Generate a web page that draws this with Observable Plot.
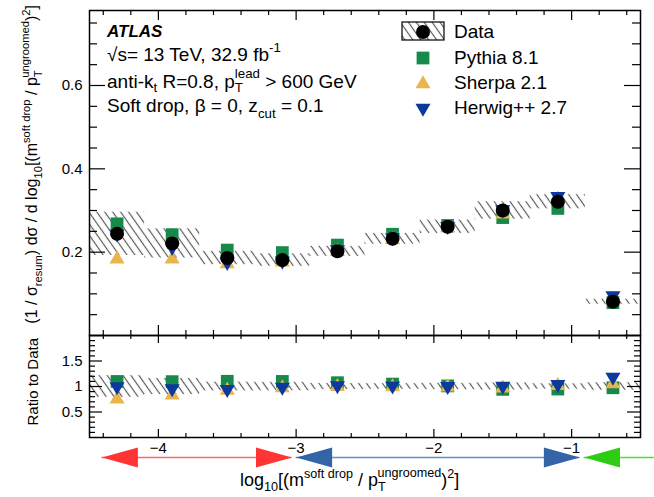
<!DOCTYPE html>
<html>
<head>
<meta charset="utf-8">
<script src="https://cdn.jsdelivr.net/npm/d3@7"></script>
<script src="https://cdn.jsdelivr.net/npm/@observablehq/plot@0.6"></script>
<style>
  body { margin: 0; background: #fff; }
  #chart { position: relative; width: 654px; height: 497px; overflow: hidden; background: #fff; }
  #chart svg { position: absolute; left: 0; overflow: visible; }
</style>
</head>
<body>
<div id="chart"></div>
<script>
// ---- Measured distribution: log10[(m_soft drop / pT_ungroomed)^2] ----
const binCenters   = [-4.3, -3.9, -3.5, -3.1, -2.7, -2.3, -1.9, -1.5, -1.1, -0.7];
const binWidth     = 0.4;
const dataValues   = [0.244, 0.221, 0.186, 0.181, 0.202, 0.232, 0.261, 0.300, 0.321, 0.081];
const dataSyst     = [0.052, 0.035, 0.016, 0.015, 0.012, 0.013, 0.016, 0.021, 0.017, 0.006];
const pythiaValues = [0.268, 0.242, 0.205, 0.199, 0.217, 0.243, 0.264, 0.283, 0.305, 0.079];
const sherpaValues = [0.183, 0.183, 0.172, 0.176, 0.201, 0.230, 0.258, 0.291, 0.327, 0.085];
const herwigValues = [0.244, 0.212, 0.176, 0.179, 0.206, 0.235, 0.262, 0.302, 0.334, 0.096];

// Theory regions shown as arrows under the axis
const regionIds    = ["nonperturbative", "resummed", "fixedOrder"];
const regionStart  = [-4.41, -3.00, -0.91];
const regionEnd    = [-3.03, -0.94, -0.40];
const regionLeft   = [true, true, true];
const regionRight  = [true, true, false];

// Tick labels
const xTickLabels      = [-4, -3, -2, -1];
const mainYTickLabels  = [0.2, 0.4, 0.6];
const ratioYTickLabels = [0.5, 1, 1.5];

// ---- Styling ----
const FONT = "'Liberation Sans', Arial, Helvetica, sans-serif";
const GREEN = "#178a4b", YELLOW = "#ebb54e", BLUE = "#0b3a9e";
const REGION_FILL = {nonperturbative: "#ff3434", resummed: "#3464a8", fixedOrder: "#2ecc12"};
const REGION_LINE = {nonperturbative: "#ff6a6a", resummed: "#6a8cc4", fixedOrder: "#4ee03a"};
const W = 654, ML = 89, MR = 14;
const innerW = W - ML - MR;
const X_DOMAIN = [-4.5, -0.5];
const R_CIRCLE = 7, R_SQUARE = 7.2, R_TRI = 5.6;

const rows = binCenters.map((c, i) => ({
  x: c, x1: c - binWidth / 2, x2: c + binWidth / 2,
  data: dataValues[i], err: dataSyst[i],
  pythia: pythiaValues[i], sherpa: sherpaValues[i], herwig: herwigValues[i]
}));
const regions = regionIds.map((id, i) => ({id, x1: regionStart[i], x2: regionEnd[i], left: regionLeft[i], right: regionRight[i]}));

const round = v => Math.round(v * 1000) / 1000;
const xMajor = [-4, -3, -2, -1];
const xMinor = d3.range(-4.4, -0.5, 0.2).map(round).filter(v => !xMajor.includes(v));
const mainYMajor = [0, 0.2, 0.4, 0.6];
const mainYMinor = d3.range(0.05, 0.78, 0.05).map(round).filter(v => !mainYMajor.includes(v));
const ratioYMajor = [0.5, 1, 1.5];
const ratioYMinor = d3.range(0.1, 2, 0.1).map(round).filter(v => !ratioYMajor.includes(v));

// Inward ROOT-style ticks on all four sides of the frame
function frameTicks(innerH, xMaj, xMin, yMaj, yMin, len) {
  const s = {stroke: "black", strokeWidth: 1.2};
  const tx = (vals, l) => [
    Plot.tickX(vals, {x: d => d, insetTop: innerH - l, ...s}),
    Plot.tickX(vals, {x: d => d, insetBottom: innerH - l, ...s})
  ];
  const ty = (vals, l) => [
    Plot.tickY(vals, {y: d => d, insetRight: innerW - l, ...s}),
    Plot.tickY(vals, {y: d => d, insetLeft: innerW - l, ...s})
  ];
  return [...tx(xMaj, len.xMaj), ...tx(xMin, len.xMin), ...ty(yMaj, len.yMaj), ...ty(yMin, len.yMin)];
}

function modelDots(yOf) {
  return [
    Plot.dot(rows, {x: "x", y: yOf("pythia"), symbol: "square", r: R_SQUARE, fill: GREEN, stroke: "none"}),
    Plot.dot(rows, {x: "x", y: yOf("sherpa"), symbol: "triangle", r: R_TRI, fill: YELLOW, stroke: "none"}),
    Plot.dot(rows, {x: "x", y: yOf("herwig"), symbol: "triangle", rotate: 180, r: R_TRI, fill: BLUE, stroke: "none"})
  ];
}

// Arrowheads: tip at the anchor point
const headRight = {draw(ctx, size) { const r = Math.sqrt(size / Math.PI); ctx.moveTo(0, 0); ctx.lineTo(-3.6 * r, -r); ctx.lineTo(-3.6 * r, r); ctx.closePath(); }};
const headLeft  = {draw(ctx, size) { const r = Math.sqrt(size / Math.PI); ctx.moveTo(0, 0); ctx.lineTo(3.6 * r, -r); ctx.lineTo(3.6 * r, r); ctx.closePath(); }};

// ---- Upper panel: distribution ----
const mainH = 336, mainTop = 10, mainBottom = 1;
const mainPlot = Plot.plot({
  width: W, height: mainH, marginLeft: ML, marginRight: MR, marginTop: mainTop, marginBottom: mainBottom,
  style: {fontFamily: FONT, fontSize: "15px", color: "black", background: "transparent", overflow: "visible"},
  x: {domain: X_DOMAIN, axis: null},
  y: {domain: [0, 0.78], axis: null},
  marks: [
    Plot.rect(rows, {x1: "x1", x2: "x2", y1: d => d.data - d.err, y2: d => d.data + d.err, fill: "url(#hatchMain)"}),
    ...modelDots(k => k),
    Plot.dot(rows, {x: "x", y: "data", r: R_CIRCLE, fill: "black", stroke: "none"}),
    ...frameTicks(mainH - mainTop - mainBottom, xMajor, xMinor, mainYMajor, mainYMinor, {xMaj: 10, xMin: 5, yMaj: 16, yMin: 8}),
    Plot.frame({stroke: "black", strokeWidth: 1.5}),
    Plot.axisY({ticks: mainYTickLabels, tickSize: 0, tickPadding: 7, fontSize: 15, tickFormat: d => String(d), label: null})
  ]
});

// ---- Lower panel: ratio to data ----
const ratioH = 167, ratioTop = 5, ratioBottom = 60;
const ratioPlot = Plot.plot({
  width: W, height: ratioH, marginLeft: ML, marginRight: MR, marginTop: ratioTop, marginBottom: ratioBottom,
  style: {fontFamily: FONT, fontSize: "15px", color: "black", background: "transparent", overflow: "visible"},
  x: {domain: X_DOMAIN, axis: null},
  y: {domain: [0, 2], axis: null},
  marks: [
    Plot.rect(rows, {x1: "x1", x2: "x2", y1: d => 1 - d.err / d.data, y2: d => 1 + d.err / d.data, fill: "url(#hatchRatio)"}),
    ...modelDots(k => d => d[k] / d.data),
    ...frameTicks(ratioH - ratioTop - ratioBottom, xMajor, xMinor, ratioYMajor, ratioYMinor, {xMaj: 8, xMin: 4, yMaj: 13, yMin: 6}),
    Plot.frame({stroke: "black", strokeWidth: 1.5}),
    Plot.axisY({ticks: ratioYTickLabels, tickSize: 0, tickPadding: 7, fontSize: 15, tickFormat: d => String(d), label: null}),
    Plot.axisX({ticks: xTickLabels, tickSize: 0, tickPadding: 5, fontSize: 15, tickFormat: d => "\u2212" + Math.abs(d), label: null}),
    Plot.ruleY(regions, {x1: "x1", x2: "x2", y: 0, dy: 20, stroke: d => REGION_LINE[d.id], strokeWidth: 1.4}),
    Plot.dot(regions.filter(d => d.left), {x: "x1", y: 0, dy: 20, symbol: headLeft, r: 10, fill: d => REGION_FILL[d.id], stroke: "none"}),
    Plot.dot(regions.filter(d => d.right), {x: "x2", y: 0, dy: 20, symbol: headRight, r: 10, fill: d => REGION_FILL[d.id], stroke: "none"})
  ]
});

const chart = document.getElementById("chart");
mainPlot.style.top = "0px";
ratioPlot.style.top = (mainTop + (mainH - mainTop - mainBottom) - ratioTop) + "px";
chart.appendChild(mainPlot);
chart.appendChild(ratioPlot);

// Hatch pattern for the systematic-uncertainty band
function addHatch(svg, id) {
  const defs = d3.select(svg).insert("defs", ":first-child");
  const p = defs.append("pattern").attr("id", id).attr("patternUnits", "userSpaceOnUse")
    .attr("width", 6.5).attr("height", 10).attr("patternTransform", "rotate(-35)");
  p.append("path").attr("d", "M3.25,-1V11").attr("stroke", "#555").attr("stroke-width", 1.15);
}
addHatch(mainPlot, "hatchMain");
addHatch(ratioPlot, "hatchRatio");

// Text with subscripts / superscripts; {stack: true} places a superscript above the preceding subscript
function richText(parent, parts, {x = 0, y = 0, size = 15, anchor = "start", transform = null, weight = null, italic = false, subShift = 0.3}) {
  const t = parent.append("text").attr("x", x).attr("y", y).attr("font-size", size)
    .attr("text-anchor", anchor).attr("fill", "black").attr("font-family", FONT);
  if (transform) t.attr("transform", transform);
  if (weight) t.attr("font-weight", weight);
  if (italic) t.attr("font-style", "italic");
  let shift = 0, prevLen = 0;
  for (const p of parts) {
    const small = p.sub || p.sup;
    const target = p.sub ? size * subShift : p.sup ? -size * (p.stack ? 0.52 : 0.45) : 0;
    const ts = t.append("tspan").attr("font-size", small ? size * 0.7 : size).attr("dy", target - shift).text(p.t);
    if (p.stack) ts.attr("dx", -prevLen);
    shift = target;
    const len = ts.node().getComputedTextLength();
    if (p.stack && len < prevLen) t.append("tspan").attr("dx", prevLen - len).text("");
    prevLen = len;
  }
  return t;
}

const axisTitleParts = [
  {t: "[(m"}, {t: "soft drop", sup: true}, {t: " / p"}, {t: "T", sub: true}, {t: "ungroomed", sup: true, stack: true},
  {t: ")"}, {t: "2", sup: true}, {t: "]"}
];

// Annotations and legend inside the upper panel
const gm = d3.select(mainPlot).append("g").attr("text-anchor", "start");
richText(gm, [{t: "ATLAS"}], {x: 107, y: 37, size: 17, weight: "bold", italic: true});
richText(gm, [{t: "\u221As= 13 TeV, 32.9 fb"}, {t: "-1", sup: true}], {x: 107, y: 61, size: 19});
richText(gm, [{t: "anti-k"}, {t: "t", sub: true}, {t: " R=0.8, p"}, {t: "T", sub: true}, {t: "lead", sup: true, stack: true}, {t: " > 600 GeV"}], {x: 107, y: 88, size: 19, subShift: 0.22});
richText(gm, [{t: "Soft drop, \u03B2 = 0, z"}, {t: "cut", sub: true}, {t: " = 0.1"}], {x: 107, y: 112, size: 19});

const legendItems = [
  {label: "Data", kind: "data", y: 31},
  {label: "Pythia 8.1", kind: "pythia", y: 57},
  {label: "Sherpa 2.1", kind: "sherpa", y: 82},
  {label: "Herwig++ 2.7", kind: "herwig", y: 107}
];
const lx = 423;
for (const it of legendItems) {
  if (it.kind === "data") {
    gm.append("rect").attr("x", lx - 21).attr("y", it.y - 9).attr("width", 42).attr("height", 18)
      .attr("fill", "url(#hatchMain)").attr("stroke", "black").attr("stroke-width", 1.2);
    gm.append("circle").attr("cx", lx).attr("cy", it.y + 1).attr("r", R_CIRCLE).attr("fill", "black");
  } else if (it.kind === "pythia") {
    gm.append("path").attr("transform", `translate(${lx},${it.y + 1})`)
      .attr("d", d3.symbol(d3.symbolSquare, Math.PI * R_SQUARE * R_SQUARE)()).attr("fill", GREEN);
  } else if (it.kind === "sherpa") {
    gm.append("path").attr("transform", `translate(${lx},${it.y + 2})`)
      .attr("d", d3.symbol(d3.symbolTriangle, Math.PI * R_TRI * R_TRI)()).attr("fill", YELLOW);
  } else {
    gm.append("path").attr("transform", `translate(${lx},${it.y + 1}) rotate(180)`)
      .attr("d", d3.symbol(d3.symbolTriangle, Math.PI * R_TRI * R_TRI)()).attr("fill", BLUE);
  }
  gm.append("text").attr("x", 454).attr("y", it.y).attr("dy", "0.36em").attr("font-size", 19)
    .attr("text-anchor", "start").attr("font-family", FONT).attr("fill", "black").text(it.label);
}

// Y-axis title of the upper panel
richText(gm, [{t: "(1 / \u03C3"}, {t: "resum", sub: true}, {t: ") d\u03C3 / d log"}, {t: "10", sub: true}, ...axisTitleParts],
  {x: 0, y: 0, size: 16, anchor: "end", transform: "translate(37,5) rotate(-90)"});

// Lower panel titles
const gr = d3.select(ratioPlot).append("g");
richText(gr, [{t: "Ratio to Data"}], {x: 0, y: 0, size: 15, anchor: "end", transform: "translate(38,8) rotate(-90)"});
richText(gr, [{t: "log"}, {t: "10", sub: true}, ...axisTitleParts], {x: 240, y: 156, size: 18});
</script>
</body>
</html>
